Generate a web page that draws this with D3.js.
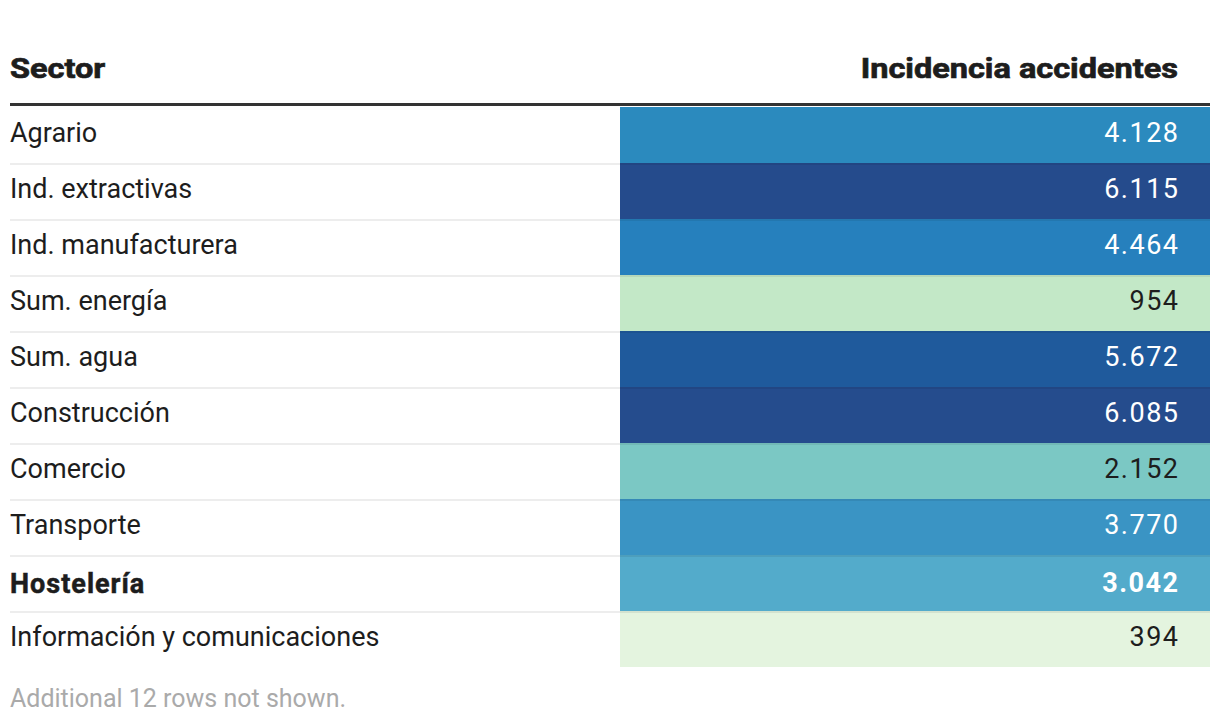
<!DOCTYPE html>
<html>
<head>
<meta charset="utf-8">
<script src="https://cdn.jsdelivr.net/npm/d3@7"></script>
<style>
  html, body { margin: 0; padding: 0; background: #fff; }
  svg { display: block; }
  text { font-family: Roboto, "Liberation Sans", sans-serif; }
</style>
</head>
<body>
<svg id="chart" width="1220" height="728"></svg>
<script>
const sectors = ["Agrario", "Ind. extractivas", "Ind. manufacturera", "Sum. energía", "Sum. agua",
  "Construcción", "Comercio", "Transporte", "Hostelería", "Información y comunicaciones"];
const values = [4128, 6115, 4464, 954, 5672, 6085, 2152, 3770, 3042, 394];
const highlighted = ["Hostelería"];
const headers = ["Sector", "Incidencia accidentes"];
const footnote = "Additional 12 rows not shown.";

const colorDomain = [394, 954, 2152, 3042, 3770, 4128, 4464, 5672, 6115];
const colorRange = ["#e4f4df", "#c3e8c7", "#7bc8c4", "#53abcb", "#3a94c4", "#2b8abe", "#2680bd", "#1f5a9c", "#254b8c"];

const color = d3.scaleLinear().domain(colorDomain).range(colorRange).interpolate(d3.interpolateRgb);
const fmt = d3.formatLocale({decimal: ",", thousands: ".", grouping: [3], currency: ["", "€"]}).format(",d");

const svg = d3.select("#chart");
const left = 10, right = 1210, cellX = 620, numX = 1178;
const top0 = 107, rowH = 56;

const y = d3.scaleBand().domain(sectors).range([top0, top0 + rowH * sectors.length]).padding(0);

// header
const hdr = svg.selectAll("text.hdr").data(headers).join("text").attr("class", "hdr")
  .attr("x", (d, i) => i === 0 ? left : numX).attr("y", 78)
  .attr("text-anchor", (d, i) => i === 0 ? "start" : "end")
  .attr("font-size", 28).attr("font-weight", 700)
  .attr("fill", "#1d1d1d").attr("stroke", "#1d1d1d").attr("stroke-width", 0.7)
  .text(d => d);
hdr.each(function () {
  const w = this.getComputedTextLength();
  d3.select(this).attr("textLength", w * 1.16).attr("lengthAdjust", "spacingAndGlyphs");
});
svg.append("rect").attr("x", left).attr("y", 103).attr("width", right - left).attr("height", 3).attr("fill", "#333");

const rows = svg.selectAll("g.row").data(sectors).join("g").attr("class", "row")
  .attr("transform", d => `translate(0,${y(d)})`);

rows.append("rect").attr("x", cellX).attr("y", 0).attr("width", right - cellX).attr("height", y.bandwidth())
  .attr("fill", (d, i) => color(values[i]));

rows.filter((d, i) => i > 0).append("rect").attr("x", left).attr("y", 0).attr("width", right - left).attr("height", 2)
  .attr("fill", "rgba(0,0,0,0.07)");

const isHi = d => highlighted.includes(d);

rows.append("text").attr("x", left).attr("y", d => isHi(d) ? 38 : 35)
  .attr("font-size", 27).attr("fill", "#1d1d1d")
  .attr("font-weight", d => isHi(d) ? 700 : 400)
  .attr("letter-spacing", d => isHi(d) ? 1 : 0)
  .attr("stroke", d => isHi(d) ? "#1d1d1d" : "none")
  .attr("stroke-width", 0.5)
  .text(d => d);

rows.append("text").attr("x", numX).attr("y", d => isHi(d) ? 37 : 35)
  .attr("font-size", 27).attr("text-anchor", "end")
  .attr("font-weight", d => isHi(d) ? 700 : 400)
  .attr("fill", (d, i) => values[i] >= 3000 ? "#fff" : "#1d1d1d")
  .attr("letter-spacing", 1.5).attr("dx", 1.5)
  .text((d, i) => fmt(values[i]));

svg.append("text").attr("x", left).attr("y", 707).attr("font-size", 25).attr("fill", "#aaa").text(footnote);
</script>
</body>
</html>
